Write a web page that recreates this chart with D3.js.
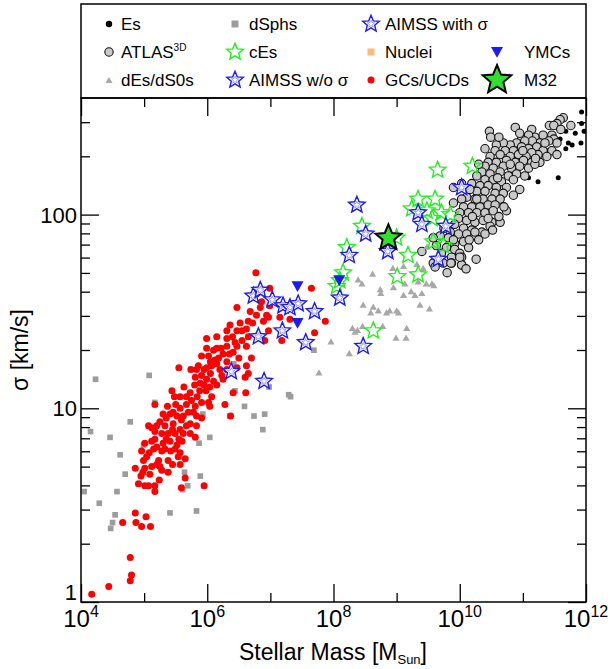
<!DOCTYPE html>
<html>
<head>
<meta charset="utf-8">
<script src="https://cdn.jsdelivr.net/npm/d3@7"></script>
<style>
  body { margin: 0; background: #fff; }
  svg text { font-family: "Liberation Sans", Arial, Helvetica, sans-serif; fill: #000; }
</style>
</head>
<body>
<svg id="chart" width="614" height="669"></svg>
<script>
// every point is [log10(M / Msun), log10(sigma / km s^-1)]
const es = [[11.93,2.53],[11.93,2.47],[11.68,2.43],[11.59,2.39],[11.72,2.37],[11.78,2.36],[11.92,2.37],
  [11.68,2.34],[11.38,2.32],[11.56,2.19],[11.24,2.17],[11.09,2.19],[10.51,1.97],[11.40,2.33],[11.83,2.42],[11.97,2.43]];

const atlas3d = [[11.64,2.50],[11.59,2.49],[11.54,2.47],[11.42,2.46],[11.49,2.46],[11.76,2.46],[10.88,2.45],[11.14,2.44],
  [10.47,2.43],[10.49,2.40],[11.32,2.41],[11.19,2.40],[11.09,2.41],[10.98,2.39],[11.46,2.41],[11.49,2.39],[11.54,2.37],
  [11.41,2.38],[11.27,2.37],[11.15,2.38],[11.03,2.38],[10.90,2.37],[10.80,2.36],[10.69,2.37],[10.58,2.36],[10.40,2.34],
  [10.56,2.33],[10.72,2.33],[10.85,2.33],[10.98,2.35],[11.09,2.34],[11.22,2.35],[11.32,2.33],[11.46,2.33],[11.54,2.31],
  [11.38,2.30],[11.24,2.31],[11.14,2.32],[11.05,2.30],[10.93,2.31],[10.80,2.30],[10.64,2.31],[10.48,2.30],[10.45,2.27],
  [10.58,2.27],[10.74,2.28],[10.88,2.27],[11.01,2.28],[11.14,2.27],[11.27,2.27],[10.69,2.25],[10.82,2.24],[10.95,2.25],
  [11.09,2.24],[11.19,2.26],[10.53,2.24],[10.40,2.25],[10.35,2.22],[10.48,2.21],[10.64,2.22],[10.77,2.20],[10.90,2.21],
  [11.03,2.20],[10.27,2.20],[10.40,2.18],[10.53,2.18],[10.66,2.17],[10.85,2.18],[10.19,2.16],[10.32,2.15],[10.45,2.15],
  [10.58,2.14],[10.74,2.14],[10.95,2.13],[10.14,2.13],[10.27,2.12],[10.40,2.12],[10.56,2.11],[10.69,2.11],[10.11,2.09],
  [10.24,2.08],[10.37,2.08],[10.51,2.08],[10.64,2.08],[10.03,2.08],[9.90,2.06],[10.06,2.04],[10.19,2.04],[10.32,2.04],
  [10.45,2.05],[10.56,2.05],[10.74,2.02],[10.00,2.01],[10.14,2.01],[10.27,2.01],[10.40,2.01],[10.53,2.02],[9.98,1.98],
  [10.11,1.97],[10.24,1.96],[10.37,1.97],[10.51,1.96],[10.64,1.96],[9.92,1.95],[10.06,1.93],[10.19,1.92],[10.35,1.91],
  [10.48,1.94],[9.85,1.91],[9.98,1.90],[10.11,1.90],[10.24,1.91],[10.40,1.90],[9.82,1.88],[9.92,1.85],[10.06,1.86],
  [9.69,1.89],[9.63,1.84],[9.79,1.83],[9.92,1.82],[10.00,1.80],[10.14,1.83],[9.71,1.80],[9.87,1.78],[10.03,1.78],
  [9.58,1.75],[9.74,1.75],[9.87,1.75],[10.03,1.74],[10.26,1.77],[9.40,1.81],[9.90,1.87],[10.27,2.08],[9.58,1.88],
  [9.61,1.73],[9.86,1.75],[10.03,1.74],[10.00,1.78],[9.90,2.14],[10.03,2.16],[10.16,2.13],
  [10.30,2.26],[10.60,2.19],[10.80,2.26],[10.70,2.04],[10.85,2.10],[10.20,1.99],[10.45,1.98],[10.30,1.87],[10.15,1.87],
  [9.75,1.93],[9.80,1.70],[10.10,1.72],[11.00,2.33],[11.20,2.29],[11.35,2.37],[10.95,2.42],[10.62,2.40],[11.60,2.44],
  [10.52,1.92],[10.62,1.99]];

const dEs = [[8.62,1.69],[8.94,1.72],[9.11,1.73],[9.32,1.74],[9.42,1.72],[8.39,1.66],[8.45,1.64],[8.74,1.61],[8.75,1.59],
  [8.95,1.62],[9.13,1.64],[9.23,1.60],[9.29,1.58],[9.40,1.59],[9.47,1.64],[9.56,1.64],[9.59,1.63],[8.47,1.53],[8.63,1.52],
  [8.71,1.50],[8.59,1.49],[8.84,1.49],[8.89,1.50],[9.00,1.50],[9.03,1.49],[9.37,1.53],[9.52,1.51],[8.30,1.41],[8.38,1.40],
  [8.46,1.42],[8.34,1.39],[8.78,1.42],[9.16,1.41],[7.96,1.34],[8.99,1.36],[9.15,1.36],[8.25,1.28],[7.77,1.18],[9.48,1.83],
  [9.34,1.65],[9.11,1.58]];

const dSphs = [[4.23,1.15],[5.08,1.17],[5.74,1.20],[6.42,1.23],[6.44,1.09],[5.17,1.03],[4.78,0.93],[4.15,0.88],[4.46,0.85],
  [4.62,0.76],[4.99,0.81],[4.70,0.66],[4.57,0.57],[4.29,0.51],[4.05,0.57],[4.54,0.45],[4.50,0.41],[4.47,0.38],[5.41,0.46],
  [5.83,0.47],[5.64,0.67],[5.89,0.65],[5.69,0.60],[5.61,0.58],[6.04,0.85],[5.87,0.82],[5.93,0.97],[6.59,1.01],[6.74,0.96],
  [6.88,0.89],[6.91,0.97],[6.36,0.96],[7.29,1.07],[7.32,1.06],[6.98,1.11],[7.69,1.30]];

const gcsUcds = [[6.77,1.70],[6.99,1.62],[7.65,1.62],[6.86,1.55],[6.99,1.53],[6.84,1.52],[6.68,1.50],[6.47,1.52],[6.94,1.48],
  [6.89,1.45],[6.97,1.47],[7.15,1.47],[7.31,1.46],[6.65,1.45],[6.52,1.44],[6.36,1.43],[6.62,1.41],[6.47,1.40],[6.31,1.40],
  [6.97,1.40],[6.81,1.38],[6.65,1.37],[6.55,1.35],[6.44,1.34],[6.31,1.36],[6.15,1.37],[5.99,1.36],[7.18,1.35],[6.91,1.35],
  [7.87,1.45],[7.70,1.39],[6.15,1.31],[6.31,1.32],[6.47,1.32],[6.62,1.32],[6.41,1.29],[6.25,1.28],[6.10,1.30],[5.99,1.31],
  [6.02,1.27],[6.18,1.26],[6.31,1.24],[6.47,1.21],[6.62,1.22],[5.99,1.21],[5.86,1.22],[5.83,1.20],[6.07,1.22],[5.91,1.27],
  [6.15,1.23],[6.20,1.20],[5.55,1.21],[5.74,1.20],[5.91,1.17],[5.99,1.15],[6.10,1.14],[6.23,1.17],[6.31,1.20],[5.81,1.16],
  [5.89,1.13],[6.04,1.11],[6.15,1.12],[5.98,1.09],[6.65,1.18],[6.60,1.16],[6.25,1.15],[6.41,1.08],[6.61,1.08],[6.28,1.02],
  [6.37,0.96],[5.44,1.09],[5.63,1.11],[5.73,1.08],[5.84,1.06],[5.91,1.03],[6.02,1.03],[6.07,1.06],[6.04,1.01],[5.81,1.01],
  [5.67,1.06],[5.57,1.06],[5.48,1.06],[5.17,1.02],[5.37,1.01],[5.46,0.98],[5.57,1.00],[5.67,1.02],[5.78,0.98],[5.83,0.96],
  [5.91,0.95],[5.83,0.91],[5.73,0.92],[5.59,0.94],[5.52,0.96],[5.41,0.97],[5.30,0.97],[5.07,0.91],[5.20,0.91],[5.33,0.91],
  [5.46,0.92],[5.57,0.89],[5.67,0.91],[5.73,0.87],[5.81,0.85],[5.62,0.87],[5.49,0.87],[5.38,0.87],[5.28,0.87],[5.17,0.88],
  [5.12,0.90],[5.01,0.82],[5.17,0.84],[5.30,0.82],[5.41,0.83],[5.52,0.81],[5.20,0.80],[5.33,0.79],[5.49,0.79],[5.57,0.77],
  [5.65,0.74],[5.54,0.75],[5.28,0.78],[5.15,0.79],[4.96,0.78],[5.04,0.75],[4.99,0.73],[5.23,0.73],[5.38,0.73],[5.57,0.71],
  [4.86,0.69],[5.01,0.69],[5.12,0.70],[5.20,0.71],[5.28,0.68],[5.38,0.67],[5.09,0.66],[4.98,0.67],[4.95,0.65],[4.91,0.61],
  [5.01,0.60],[5.07,0.60],[5.17,0.60],[5.24,0.63],[5.17,0.57],[5.65,0.64],[5.59,0.59],[5.95,0.60],[4.86,0.46],[5.03,0.44],
  [4.66,0.41],[4.87,0.41],[4.96,0.39],[5.10,0.39],[4.78,0.23],[4.80,0.14],[4.78,0.11],[4.44,0.08],[4.17,0.04],
  [5.25,0.93],[5.35,0.95],[5.45,0.89],[5.55,0.84],[5.62,0.96],[5.70,0.98],[5.75,1.04],[5.88,1.09],[5.95,1.12],[6.05,1.18],
  [6.12,1.25],[6.22,1.31],[6.35,1.28],[6.40,1.37],[6.55,1.40],[6.72,1.44],[6.78,1.48],[5.42,0.78],[5.35,0.84],[5.12,0.83],
  [5.08,0.77],[5.25,0.70],[5.45,0.71],[5.60,0.83],[5.95,1.20],[6.05,1.24],[5.80,1.12],[5.50,1.02],[6.50,1.26],[6.70,1.26]];

const cEs = [[9.65,2.23],[10.20,2.25],[9.34,2.08],[9.61,2.08],[9.24,2.03],[9.48,2.02],[9.71,2.01],[9.85,2.00],[9.56,1.98],
  [8.45,1.94],[9.00,1.88],[9.58,1.86],[9.74,1.84],[9.18,1.79],[8.21,1.83],[8.15,1.70],[8.10,1.66],[8.05,1.63],[9.01,1.68],
  [9.34,1.69],[8.63,1.40]];

const aimssWithSigma = [[8.37,2.05],[8.51,1.90],[8.86,1.81],[8.25,1.79],[8.10,1.57],[8.47,1.32],[9.34,2.01],[9.40,1.95],
  [9.78,1.94],[9.66,1.77],[10.03,2.14]];

const aimssNoSigma = [[6.73,1.58],[6.84,1.61],[7.03,1.56],[7.20,1.53],[7.31,1.52],[7.44,1.54],[7.70,1.50],[7.19,1.40],
  [6.81,1.37],[7.56,1.34],[6.38,1.19],[6.90,1.14]];

const nuclei = [];
const ymcs = [[7.43,1.63],[7.43,1.44],[8.09,1.66]];
const m32 = [[8.87,1.88]];

const xMajor = [4, 6, 8, 10, 12];
const xMinor = [5, 7, 9, 11];
const yMajor = [1, 10, 100];
const yMinor = [2, 3, 4, 5, 6, 7, 8, 9, 20, 30, 40, 50, 60, 70, 80, 90, 200, 300];

const svg = d3.select('#chart');
const pL = 81, pR = 586, pT = 98, pB = 602;

const x = d3.scaleLog().domain([1e4, 1e12]).range([pL, pR]);
const y = d3.scaleLog().domain([1, 400]).range([pB, pT]);
const px = d => x(10 ** d[0]);
const py = d => y(10 ** d[1]);

const BLUE = '#1c1cf0', GREEN = '#22f022', GREY_SQ = '#9c9c9c', GREY_TRI = '#a8a8a8';

function starPath(cx, cy, R, ratio = 0.45) {
  const p = d3.path();
  for (let i = 0; i < 10; i++) {
    const a = -Math.PI / 2 + i * Math.PI / 5;
    const rr = i % 2 ? R * ratio : R;
    const X = cx + rr * Math.cos(a), Y = cy + rr * Math.sin(a);
    if (i) p.lineTo(X, Y); else p.moveTo(X, Y);
  }
  p.closePath();
  return p.toString();
}

function downTri(cx, cy, s) {
  return `M${cx - s},${cy - s * 0.85}L${cx + s},${cy - s * 0.85}L${cx},${cy + s * 0.95}Z`;
}

svg.append('clipPath').attr('id', 'plotclip')
  .append('rect').attr('x', pL).attr('y', pT).attr('width', pR - pL).attr('height', pB - pT);

const plot = svg.append('g').attr('clip-path', 'url(#plotclip)');

// marker painters, shared by the plot and the legend
const draw = {
  es: (g, cx, cy, r = 2.5) => g.append('circle').attr('cx', cx).attr('cy', cy).attr('r', r).attr('fill', '#000'),
  atlas: (g, cx, cy) => g.append('circle').attr('cx', cx).attr('cy', cy).attr('r', 4.2)
    .attr('fill', '#c9c9c9').attr('stroke', '#111').attr('stroke-width', 1.1),
  dEs: (g, cx, cy, s = 22) => g.append('path').attr('transform', `translate(${cx},${cy})`)
    .attr('d', d3.symbol(d3.symbolTriangle, s)()).attr('fill', GREY_TRI),
  dSph: (g, cx, cy, s = 32) => g.append('path').attr('transform', `translate(${cx},${cy})`)
    .attr('d', d3.symbol(d3.symbolSquare, s)()).attr('fill', GREY_SQ),
  gc: (g, cx, cy) => g.append('circle').attr('cx', cx).attr('cy', cy).attr('r', 3.5).attr('fill', '#ff0000'),
  cE: (g, cx, cy) => g.append('path').attr('d', starPath(cx, cy, 8.7))
    .attr('fill', 'none').attr('stroke', GREEN).attr('stroke-width', 1.4),
  aimss: (g, cx, cy) => {
    g.append('path').attr('d', starPath(cx, cy, 8.7)).attr('fill', '#fff')
      .attr('stroke', BLUE).attr('stroke-width', 1.4);
    g.append('path').attr('d', starPath(cx, cy, 3.8)).attr('fill', 'none')
      .attr('stroke', '#8a8af6').attr('stroke-width', 0.8);
  },
  nucleus: (g, cx, cy) => g.append('path').attr('transform', `translate(${cx},${cy})`)
    .attr('d', d3.symbol(d3.symbolSquare, 50)()).attr('fill', '#ffbb7a'),
  ymc: (g, cx, cy) => g.append('path').attr('d', downTri(cx, cy, 6)).attr('fill', BLUE),
  m32: (g, cx, cy, R = 13.5) => g.append('path').attr('d', starPath(cx, cy, R))
    .attr('fill', '#2fe02f').attr('stroke', '#000').attr('stroke-width', 2).attr('stroke-linejoin', 'miter')
};

es.forEach(d => draw.es(plot, px(d), py(d)));
atlas3d.forEach(d => draw.atlas(plot, px(d), py(d)));
dSphs.forEach(d => draw.dSph(plot, px(d), py(d)));
dEs.forEach(d => draw.dEs(plot, px(d), py(d)));
gcsUcds.forEach(d => draw.gc(plot, px(d), py(d)));
nuclei.forEach(d => draw.nucleus(plot, px(d), py(d)));
cEs.forEach(d => draw.cE(plot, px(d), py(d)));
aimssNoSigma.concat(aimssWithSigma).forEach(d => draw.aimss(plot, px(d), py(d)));
ymcs.forEach(d => draw.ymc(plot, px(d), py(d)));
m32.forEach(d => draw.m32(plot, px(d), py(d)));

// axes: ticks point inward on all four sides
function tickAxis(axis, pos, vals, len) {
  const g = svg.append('g').attr('transform', pos)
    .call(axis.tickValues(vals).tickSize(-len).tickFormat(''));
  g.select('.domain').remove();
  g.selectAll('line').attr('stroke', '#000').attr('stroke-width', 1.3);
}
const xm = xMajor.map(e => 10 ** e), xn = xMinor.map(e => 10 ** e);
tickAxis(d3.axisBottom(x), `translate(0,${pB})`, xm, 18);
tickAxis(d3.axisBottom(x), `translate(0,${pB})`, xn, 9);
tickAxis(d3.axisTop(x), `translate(0,${pT})`, xm, 18);
tickAxis(d3.axisTop(x), `translate(0,${pT})`, xn, 9);
tickAxis(d3.axisLeft(y), `translate(${pL},0)`, yMajor, 18);
tickAxis(d3.axisLeft(y), `translate(${pL},0)`, yMinor, 9);
tickAxis(d3.axisRight(y), `translate(${pR},0)`, yMajor, 18);
tickAxis(d3.axisRight(y), `translate(${pR},0)`, yMinor, 9);

svg.append('rect').attr('x', pL).attr('y', pT).attr('width', pR - pL).attr('height', pB - pT)
  .attr('fill', 'none').attr('stroke', '#000').attr('stroke-width', 1.5);

// tick labels
svg.selectAll('.xl').data(xMajor).enter().append('text')
  .attr('class', 'xl')
  .attr('x', e => x(10 ** e)).attr('y', 627)
  .attr('text-anchor', 'middle').attr('font-size', 24)
  .each(function (e) {
    const t = d3.select(this);
    t.append('tspan').text('10');
    t.append('tspan').attr('dy', -10).attr('font-size', 16).text(e);
  });

svg.selectAll('.yl').data(yMajor).enter().append('text')
  .attr('class', 'yl')
  .attr('x', 77).attr('y', v => v === 1 ? 600 : y(v) + 8)
  .attr('text-anchor', 'end').attr('font-size', 22)
  .text(v => v);

// axis titles
const xt = svg.append('text').attr('x', 333).attr('y', 660).attr('text-anchor', 'middle').attr('font-size', 23);
xt.append('tspan').text('Stellar Mass [M');
xt.append('tspan').attr('font-size', 13).attr('dy', 4).text('Sun');
xt.append('tspan').attr('dy', -4).text(']');

svg.append('text').attr('transform', `translate(28,${(pT + pB) / 2}) rotate(-90)`)
  .attr('text-anchor', 'middle').attr('font-size', 23).text('σ [km/s]');

// legend
svg.append('rect').attr('x', pL).attr('y', 4).attr('width', pR - pL).attr('height', pT - 4)
  .attr('fill', 'none').attr('stroke', '#000').attr('stroke-width', 1.5);

const legendRows = [24, 52, 80];
const legendCols = [[109, 121], [235, 249], [371, 385], [497, 524]];
const legendItems = [
  { col: 0, row: 0, key: 'es', label: 'Es' },
  { col: 0, row: 1, key: 'atlas', label: 'ATLAS', sup: '3D' },
  { col: 0, row: 2, key: 'dEs', label: 'dEs/dS0s' },
  { col: 1, row: 0, key: 'dSph', label: 'dSphs' },
  { col: 1, row: 1, key: 'cE', label: 'cEs' },
  { col: 1, row: 2, key: 'aimss', label: 'AIMSS w/o σ' },
  { col: 2, row: 0, key: 'aimss', label: 'AIMSS with σ' },
  { col: 2, row: 1, key: 'nucleus', label: 'Nuclei' },
  { col: 2, row: 2, key: 'gc', label: 'GCs/UCDs' },
  { col: 3, row: 1, key: 'ymc', label: 'YMCs' },
  { col: 3, row: 2, key: 'm32', label: 'M32' }
];
const lg = svg.append('g');
legendItems.forEach(it => {
  const [mx, tx] = legendCols[it.col];
  const cy = legendRows[it.row];
  if (it.key === 'm32') draw.m32(lg, mx, cy, 15);
  else if (it.key === 'dEs') draw.dEs(lg, mx, cy + 1, 22);
  else if (it.key === 'dSph') draw.dSph(lg, mx, cy, 48);
  else if (it.key === 'es') draw.es(lg, mx, cy, 3.2);
  else draw[it.key](lg, mx, cy);
  const t = lg.append('text').attr('x', tx).attr('y', cy + 6).attr('font-size', 17);
  t.append('tspan').text(it.label);
  if (it.sup) t.append('tspan').attr('dy', -7).attr('font-size', 10).text(it.sup);
});
</script>
</body>
</html>
